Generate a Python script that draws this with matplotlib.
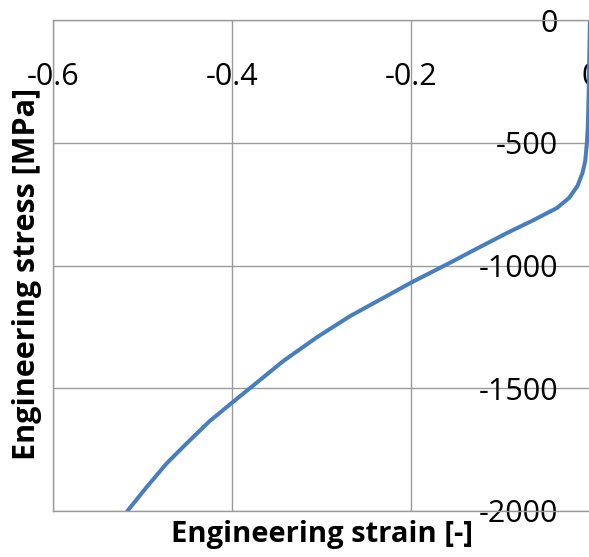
import numpy as np
import matplotlib
matplotlib.use("Agg")
import matplotlib.pyplot as plt

plt.rcParams['font.family'] = ['Open Sans', 'DejaVu Sans']
plt.rcParams['axes.unicode_minus'] = False

# values
strain = [0.0, -0.0008, -0.0015, -0.0024, -0.0034, -0.0053, -0.0084, -0.014,
          -0.0235, -0.037, -0.052, -0.063, -0.093, -0.131, -0.156, -0.199,
          -0.231, -0.268, -0.305, -0.343, -0.380, -0.399, -0.425, -0.451,
          -0.473, -0.495, -0.516]
stress = [0, -150, -300, -430, -497, -574, -623, -676, -725, -766, -794,
          -815, -868, -940, -988, -1068, -1132, -1206, -1292, -1390, -1500,
          -1556, -1634, -1726, -1806, -1901, -1996]

xticks = [-0.6, -0.4, -0.2, 0]
xlabels = ["-0.6", "-0.4", "-0.2", "0"]
yticks = [0, -500, -1000, -1500, -2000]
ylabels = ["0", "-500", "-1000", "-1500", "-2000"]

W, H = 589, 557
fig = plt.figure(figsize=(W/100, H/100), dpi=100)
# the plot area runs slightly past the right edge, as in the reference
ax = fig.add_axes([53/W, 46/H, 537/W, 491/H])

ax.plot(strain, stress, color='#4a7ebb', lw=2.9, solid_joinstyle='round')

ax.set_xlim(-0.6, 0)
ax.set_ylim(-2000, 0)
ax.set_xticks(xticks)
ax.set_xticklabels(xlabels)
ax.set_yticks(yticks)
ax.set_yticklabels(ylabels)

grid_c = '#9a9a9a'
ax.grid(True, color=grid_c, lw=1.0)
for s in ax.spines.values():
    s.set_color(grid_c)
    s.set_linewidth(1.0)

ax.tick_params(axis='x', length=0, labeltop=True, labelbottom=False,
               pad=-52, labelsize=22)
ax.yaxis.tick_right()
ax.tick_params(axis='y', length=0, labelright=True, labelleft=False,
               pad=-23, labelsize=22)
for t in ax.get_yticklabels():
    t.set_horizontalalignment('right')

ax.set_xlabel("Engineering strain [-]", fontsize=21, fontweight='bold',
              labelpad=6.5)
ax.set_ylabel("Engineering stress [MPa]", fontsize=22, fontweight='bold')
ax.yaxis.set_label_position('left')
ax.yaxis.set_label_coords(-0.0205, 0.483)

fig.savefig("out.png", dpi=100)
